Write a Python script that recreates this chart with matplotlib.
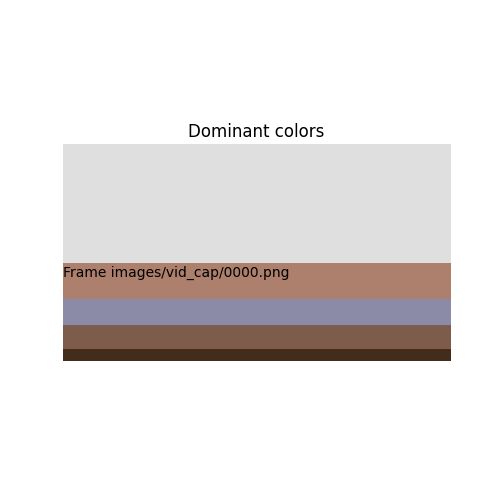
import matplotlib
matplotlib.use("Agg")
import matplotlib.pyplot as plt
import numpy as np

frame_name = "images/vid_cap/0000.png"
frame_w = 640
frame_h = 360
# band heights (rows of the frame) per dominant colour
band_rows = [198, 60, 42, 40, 20]
band_colors = ["#dfdfdf", "#ad7f6d", "#8b8ba8", "#7e5c4b", "#432c1a"]

rgb = [matplotlib.colors.to_rgb(c) for c in band_colors]
img = np.zeros((frame_h, frame_w, 3))
row = 0
for n, c in zip(band_rows, rgb):
    img[row:row + n, :, :] = c
    row += n

fig = plt.figure(figsize=(5, 5), dpi=100)
ax = fig.add_subplot(1, 1, 1)
ax.imshow(img, extent=[0, frame_w, frame_h, 0], interpolation="nearest")
ax.text(0.5, band_rows[0] + 4, "Frame " + frame_name, va="top", ha="left", fontsize=10)
ax.set_title("Dominant colors", pad=5)
ax.axis("off")
fig.savefig("out.png", dpi=100)
